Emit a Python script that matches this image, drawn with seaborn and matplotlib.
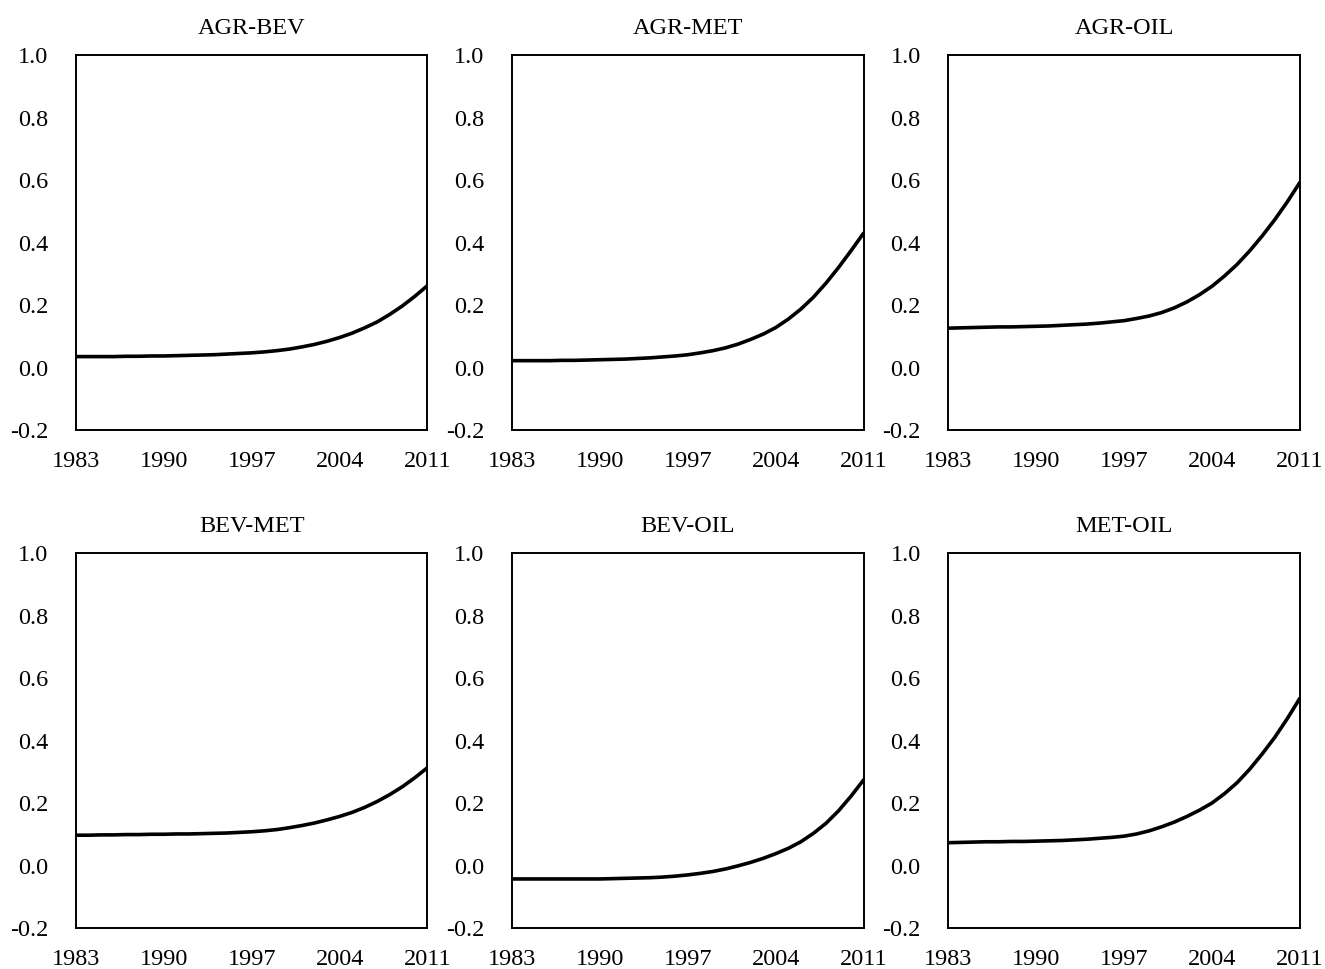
import numpy as np
import pandas as pd
import matplotlib
matplotlib.use("Agg")
import matplotlib.pyplot as plt
import seaborn as sns
from matplotlib.ticker import FormatStrFormatter

sns.set_style("white")
plt.rcParams['font.family'] = ['Liberation Serif', 'DejaVu Serif']
plt.rcParams['axes.unicode_minus'] = False
plt.rcParams['text.color'] = 'black'

# Data
years = list(range(1983, 2012))
pairs = ["AGR-BEV", "AGR-MET", "AGR-OIL", "BEV-MET", "BEV-OIL", "MET-OIL"]

agr_bev = [0.035, 0.035, 0.035, 0.035, 0.036, 0.036, 0.037, 0.037, 0.038, 0.039,
           0.040, 0.041, 0.043, 0.045, 0.047, 0.050, 0.054, 0.059, 0.066, 0.074,
           0.084, 0.096, 0.110, 0.127, 0.146, 0.170, 0.197, 0.228, 0.262]
agr_met = [0.022, 0.022, 0.022, 0.022, 0.023, 0.023, 0.024, 0.025, 0.026, 0.027,
           0.029, 0.031, 0.034, 0.037, 0.041, 0.047, 0.054, 0.063, 0.075, 0.090,
           0.107, 0.128, 0.155, 0.187, 0.225, 0.270, 0.320, 0.374, 0.430]
agr_oil = [0.126, 0.127, 0.128, 0.129, 0.130, 0.130, 0.131, 0.132, 0.133, 0.135,
           0.137, 0.139, 0.142, 0.146, 0.150, 0.157, 0.165, 0.176, 0.191, 0.210,
           0.233, 0.260, 0.293, 0.330, 0.373, 0.421, 0.473, 0.530, 0.592]
bev_met = [0.097, 0.097, 0.098, 0.098, 0.099, 0.099, 0.100, 0.100, 0.101, 0.101,
           0.102, 0.103, 0.104, 0.106, 0.108, 0.111, 0.115, 0.121, 0.128, 0.136,
           0.146, 0.157, 0.170, 0.186, 0.205, 0.227, 0.252, 0.281, 0.313]
bev_oil = [-0.043, -0.043, -0.043, -0.043, -0.043, -0.043, -0.043, -0.043, -0.042, -0.041,
           -0.040, -0.039, -0.037, -0.034, -0.030, -0.025, -0.019, -0.011, -0.001, 0.010,
           0.023, 0.038, 0.055, 0.076, 0.103, 0.135, 0.175, 0.222, 0.274]
met_oil = [0.073, 0.074, 0.075, 0.076, 0.076, 0.077, 0.077, 0.078, 0.079, 0.080,
           0.082, 0.084, 0.087, 0.090, 0.094, 0.101, 0.111, 0.124, 0.139, 0.157,
           0.177, 0.200, 0.230, 0.265, 0.308, 0.357, 0.410, 0.470, 0.535]

series = [agr_bev, agr_met, agr_oil, bev_met, bev_oil, met_oil]
xticks = [1983, 1990, 1997, 2004, 2011]
yticks = [-0.2, 0.0, 0.2, 0.4, 0.6, 0.8, 1.0]

fig, axes = plt.subplots(2, 3, figsize=(13.25, 9.69), dpi=100)
plt.subplots_adjust(left=0.0574, right=0.981, top=0.9432, bottom=0.0423,
                    wspace=0.2415, hspace=0.328)

for ax, name, vals in zip(axes.flat, pairs, series):
    df = pd.DataFrame({'year': years, 'value': vals})
    sns.lineplot(data=df, x='year', y='value', ax=ax, color='black', linewidth=2.6)
    ax.set_xlim(1983, 2011)
    ax.set_ylim(-0.2, 1.0)
    ax.set_xticks(xticks)
    ax.set_yticks(yticks)
    ax.yaxis.set_major_formatter(FormatStrFormatter('%.1f'))
    ax.set_xlabel('')
    ax.set_ylabel('')
    ax.set_title(name, fontsize=17.5, pad=15, color='black')
    ax.tick_params(axis='both', length=0, labelsize=17.5, colors='black')
    ax.tick_params(axis='x', pad=15)
    ax.tick_params(axis='y', pad=20)
    for sp in ax.spines.values():
        sp.set_visible(True)
        sp.set_color('black')
        sp.set_linewidth(1.4)

plt.savefig('out.png', dpi=100)
